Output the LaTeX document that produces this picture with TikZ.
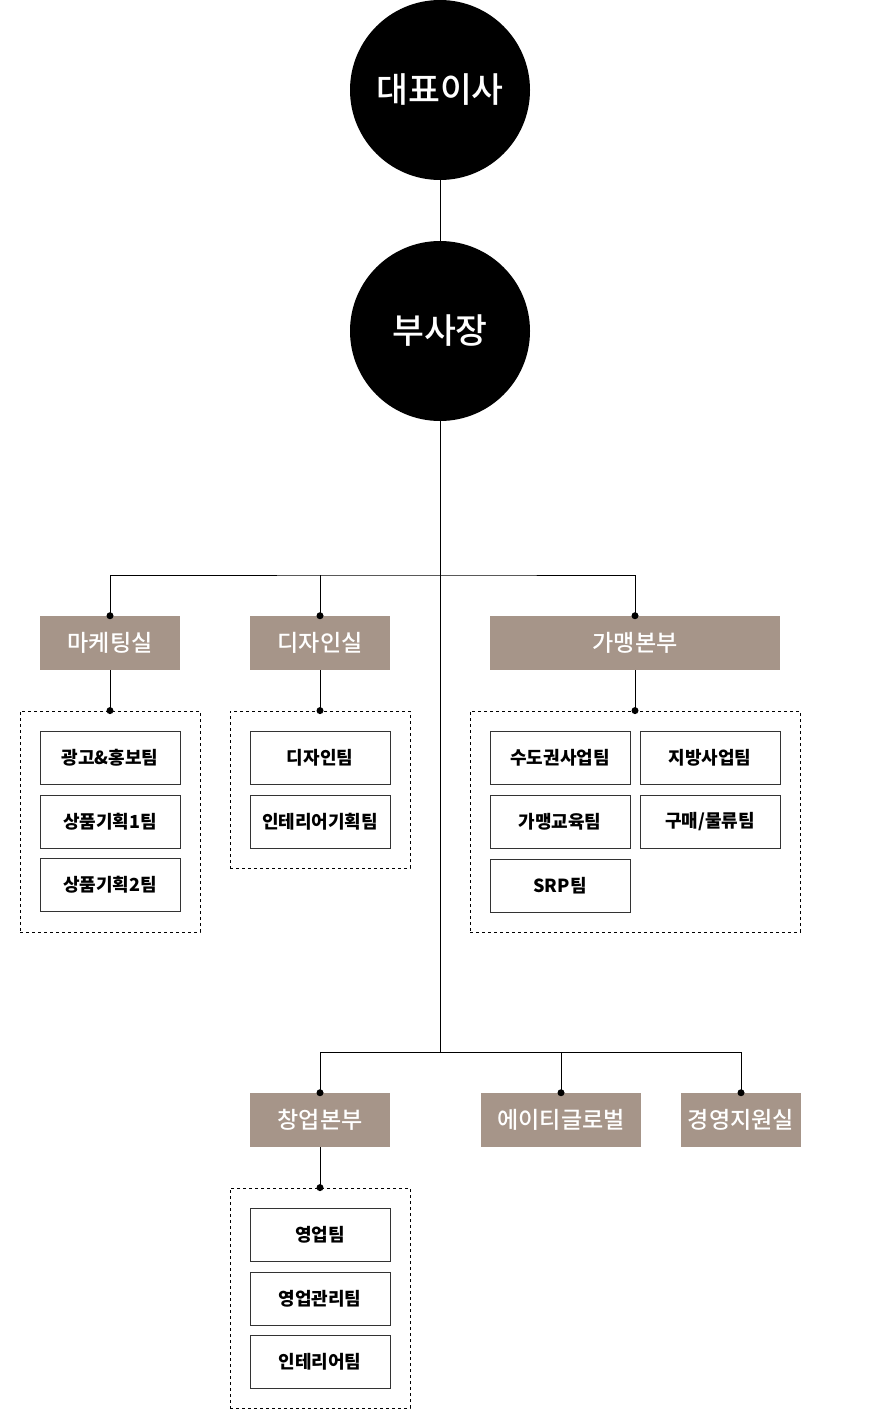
\documentclass[tikz,border=0pt]{standalone}
\usepackage{fontspec}
\setmainfont{Noto Sans CJK KR}
\newfontfamily\medfont{Noto Sans CJK KR Medium}
\usepackage{xcolor}
\usepackage{tikz}
\usetikzlibrary{positioning, shapes, calc}
\definecolor{deptbrown}{HTML}{A69589}
\definecolor{teamline}{HTML}{333333}

\begin{document}
\begin{tikzpicture}[x=0.75pt, y=-0.75pt]

		\tikzstyle{headc}=[circle, fill=black, draw=none, minimum size=135pt, inner sep=0pt, text=white, font=\medfont\fontsize{26}{30}\selectfont]
		\tikzstyle{deptr}=[rectangle, fill=deptbrown, draw=none, minimum height=40.5pt, inner sep=0pt, text=white, font=\medfont\fontsize{17.3}{20}\selectfont]
		\tikzstyle{teamr}=[rectangle, draw=teamline, line width=0.75pt, fill=white, minimum width=105pt, minimum height=39.75pt, inner sep=0pt, font=\bfseries\fontsize{13.5}{16}\selectfont]
		\tikzstyle{groupr}=[rectangle, draw=black, line width=0.6pt, dash pattern=on 2.5pt off 2pt, inner sep=0pt]
		\tikzstyle{link}=[line width=0.75pt, black]

		\useasboundingbox (0,0) rectangle (880,1409);

		\node (ceo) at (440,90) [headc] {대표이사};
		\node (vp) at (440,331) [headc] {부사장};

		\node (mkt) at (110,643) [deptr, minimum width=105pt] {마케팅실};
		\node (dsn) at (320,643) [deptr, minimum width=105pt] {디자인실};
		\node (gm) at (635,643) [deptr, minimum width=217.5pt] {가맹본부};

		\node (g1) at (110,821.5) [groupr, minimum width=135pt, minimum height=165.75pt] {};
		\node (g2) at (320,789.5) [groupr, minimum width=135pt, minimum height=117.75pt] {};
		\node (g3) at (635,821.5) [groupr, minimum width=247.5pt, minimum height=165.75pt] {};

		\node (t11) at (110,757.5) [teamr] {광고\&홍보팀};
		\node (t12) at (110,821.5) [teamr] {상품기획1팀};
		\node (t13) at (110,884.5) [teamr] {상품기획2팀};

		\node (t21) at (320,757.5) [teamr] {디자인팀};
		\node (t22) at (320,821.5) [teamr] {인테리어기획팀};

		\node (t31) at (560,757.5) [teamr] {수도권사업팀};
		\node (t32) at (710,757.5) [teamr] {지방사업팀};
		\node (t33) at (560,821.5) [teamr] {가맹교육팀};
		\node (t34) at (710,821.5) [teamr] {구매/물류팀};
		\node (t35) at (560,885.5) [teamr] {SRP팀};

		\node (stp) at (320,1120) [deptr, minimum width=105pt] {창업본부};
		\node (atg) at (561,1120) [deptr, minimum width=120pt] {에이티글로벌};
		\node (mgt) at (741,1120) [deptr, minimum width=90pt] {경영지원실};

		\node (g4) at (320,1298) [groupr, minimum width=135pt, minimum height=165pt] {};

		\node (t41) at (320,1234.5) [teamr] {영업팀};
		\node (t42) at (320,1298.5) [teamr] {영업관리팀};
		\node (t43) at (320,1361.5) [teamr] {인테리어팀};

		\coordinate (j1) at (440,575);
		\coordinate (j2) at (440,1052);

		\draw [link] (ceo) -- (vp);
		\draw [link] (vp) -- (j2);

		\draw [link] (mkt.north) |- (j1) -| (gm.north);
		\draw [link] (dsn.north) -- (dsn.north |- j1);

		\draw [link] (stp.north) |- (j2) -| (mgt.north);
		\draw [link] (atg.north) -- (atg.north |- j2);

		\draw [link] (mkt) -- (g1.north);
		\draw [link] (dsn) -- (g2.north);
		\draw [link] (gm) -- (g3.north);
		\draw [link] (stp) -- (g4.north);

		\fill (mkt.north) circle (3.5);
		\fill (dsn.north) circle (3.5);
		\fill (gm.north) circle (3.5);
		\fill (stp.north) circle (3.5);
		\fill (atg.north) circle (3.5);
		\fill (mgt.north) circle (3.5);
		\fill (g1.north) circle (3.5);
		\fill (g2.north) circle (3.5);
		\fill (g3.north) circle (3.5);
		\fill (g4.north) circle (3.5);

		\end{tikzpicture}
\end{document}
